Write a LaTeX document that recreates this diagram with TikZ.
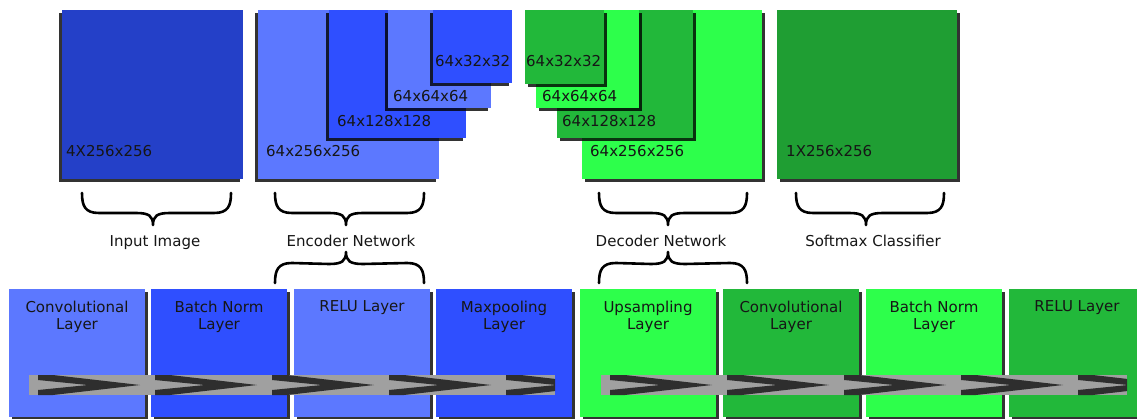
\documentclass[tikz,border=0pt]{standalone}
\usepackage{fontspec}
\setmainfont{DejaVu Sans}
\usetikzlibrary{shadows,calc}
\definecolor{inblue}{HTML}{2440C8}
\definecolor{lblue}{HTML}{5C78FF}
\definecolor{mblue}{HTML}{2F4FFF}
\definecolor{bgreen}{HTML}{2DFF4B}
\definecolor{mgreen}{HTML}{22B83A}
\definecolor{dgreen}{HTML}{1F9E33}
\definecolor{bandgray}{HTML}{A0A0A0}
\definecolor{banddark}{HTML}{2E2E2E}
\definecolor{txt}{HTML}{161616}
\tikzset{
  x=1pt, y=-1pt,
  box/.style={anchor=north west, inner sep=0pt, outer sep=0pt, draw=none},
  sz/.style 2 args={minimum width=#1pt, minimum height=#2pt},
  shr/.style={drop shadow={shadow xshift=3pt, shadow yshift=-3pt, opacity=0.8, fill=black}},
  shl/.style={drop shadow={shadow xshift=-3pt, shadow yshift=-3pt, opacity=0.8, fill=black}},
  dimlabel/.style={anchor=base west, inner sep=0pt, text=txt, font=\fontsize{15}{17.5}\selectfont},
  layertext/.style={anchor=north, inner sep=0pt, align=center, text=txt, font=\fontsize{15}{17.5}\selectfont},
  bracelabel/.style={anchor=base, inner sep=0pt, text=txt, font=\fontsize{15}{17.5}\selectfont},
  bracestyle/.style={draw=black, line width=2.6pt, line cap=round, line join=round},
  layerbox/.style={box, sz={136}{128}, shr},
}
\newcommand{\drawbrace}[4]{%
  \draw[bracestyle] (#1)
    .. controls ($(#1)+(0,{13*(#4)})$) and ($(#1)+(3,{20*(#4)})$) .. ($(#1)+(17,{20*(#4)})$)
    -- ($(#3)+(-17,{-12*(#4)})$)
    .. controls ($(#3)+(-4,{-12*(#4)})$) and ($(#3)+(0,{-9*(#4)})$) .. (#3)
    .. controls ($(#3)+(0,{-9*(#4)})$) and ($(#3)+(4,{-12*(#4)})$) .. ($(#3)+(17,{-12*(#4)})$)
    -- ($(#2)+(-17,{20*(#4)})$)
    .. controls ($(#2)+(-3,{20*(#4)})$) and ($(#2)+(0,{13*(#4)})$) .. (#2);}
\newcommand{\chev}[1]{%
  \fill[banddark] (#1,375) -- (#1+15,375) -- (#1+102,385) -- (#1+15,395) -- (#1,395)
    -- (#1,390) -- (#1+50,385) -- (#1,380) -- cycle;}
\begin{document}
\begin{tikzpicture}
\useasboundingbox (0,0) rectangle (1137,419);
\fill[white] (0,0) rectangle (1137,419);

% ---- top row: input ----
\node[box, sz={181}{169}, fill=inblue, shl] (in) at (62,10) {};
\node[dimlabel] (inl) at (66,157) {4X256x256};

% ---- encoder stack ----
\node[box, sz={181}{169}, fill=lblue, shl] (e1) at (258,10) {};
\node[box, sz={137}{128}, fill=mblue, shl] (e2) at (329,10) {};
\node[box, sz={103}{98}, fill=lblue, shl] (e3) at (388,10) {};
\node[box, sz={79}{73}, fill=mblue, shl] (e4) at (433,10) {};
\node[dimlabel] (e1l) at (266,157) {64x256x256};
\node[dimlabel] (e2l) at (337,127) {64x128x128};
\node[dimlabel] (e3l) at (393,102) {64x64x64};
\node[dimlabel] (e4l) at (435,67) {64x32x32};

% ---- decoder stack ----
\node[box, sz={180}{169}, fill=bgreen, shr] (d1) at (582,10) {};
\node[box, sz={136}{128}, fill=mgreen, shr] (d2) at (557,10) {};
\node[box, sz={103}{98}, fill=bgreen, shr] (d3) at (536,10) {};
\node[box, sz={79}{74}, fill=mgreen, shr] (d4) at (525,10) {};
\node[dimlabel] (d4l) at (526,67) {64x32x32};
\node[dimlabel] (d3l) at (542,102) {64x64x64};
\node[dimlabel] (d2l) at (562,127) {64x128x128};
\node[dimlabel] (d1l) at (590,157) {64x256x256};

% ---- softmax ----
\node[box, sz={180}{169}, fill=dgreen, shr] (sm) at (777,10) {};
\node[dimlabel] (sml) at (786,157) {1X256x256};

% ---- braces and labels ----
\coordinate (inbL) at (82,193);  \coordinate (inbR) at (231,193);  \coordinate (inbT) at (153,225);
\coordinate (enbL) at (275,193); \coordinate (enbR) at (424,193); \coordinate (enbT) at (346,225);
\coordinate (debL) at (599,193); \coordinate (debR) at (747,193); \coordinate (debT) at (668,225);
\coordinate (smbL) at (796,193); \coordinate (smbR) at (944,193); \coordinate (smbT) at (866,225);
\coordinate (enlL) at (275,283); \coordinate (enlR) at (424,283); \coordinate (enlT) at (346,252);
\coordinate (delL) at (599,283); \coordinate (delR) at (747,283); \coordinate (delT) at (668,252);
\drawbrace{inbL}{inbR}{inbT}{1}
\drawbrace{enbL}{enbR}{enbT}{1}
\drawbrace{debL}{debR}{debT}{1}
\drawbrace{smbL}{smbR}{smbT}{1}
\drawbrace{enlL}{enlR}{enlT}{-1}
\drawbrace{delL}{delR}{delT}{-1}
\node[bracelabel] (inlab) at (155,247) {Input Image};
\node[bracelabel] (enlab) at (351,247) {Encoder Network};
\node[bracelabel] (delab) at (661,247) {Decoder Network};
\node[bracelabel] (smlab) at (873,247) {Softmax Classifier};

% ---- bottom row: encoder layers ----
\node[layerbox, fill=lblue] (conv1) at (9,289) {};
\node[layerbox, fill=mblue] (bn1) at (151,289) {};
\node[layerbox, fill=lblue] (relu1) at (294,289) {};
\node[layerbox, fill=mblue] (pool) at (436,289) {};
% ---- bottom row: decoder layers ----
\node[layerbox, fill=bgreen] (up) at (580,289) {};
\node[layerbox, fill=mgreen] (conv2) at (723,289) {};
\node[layerbox, fill=bgreen] (bn2) at (866,289) {};
\node[layerbox, fill=mgreen] (relu2) at (1009,289) {};

\foreach \n/\t in {conv1/{Convolutional\\Layer}, bn1/{Batch Norm\\Layer}, relu1/{RELU Layer}, pool/{Maxpooling\\Layer},
                   up/{Upsampling\\Layer}, conv2/{Convolutional\\Layer}, bn2/{Batch Norm\\Layer}, relu2/{RELU Layer}}
  \node[layertext] (\n-t) at ([yshift=-11.5pt]\n.north) {\t};

% ---- chevron bands ----
\begin{scope}
  \clip (29,375) rectangle (555,395);
  \fill[bandgray] (29,375) rectangle (555,395);
  \foreach \s in {38,155,272,389,506} { \chev{\s} }
\end{scope}
\begin{scope}
  \clip (601,375) rectangle (1127,395);
  \fill[bandgray] (601,375) rectangle (1127,395);
  \foreach \s in {610,727,844,961,1078} { \chev{\s} }
\end{scope}
\end{tikzpicture}
\end{document}
